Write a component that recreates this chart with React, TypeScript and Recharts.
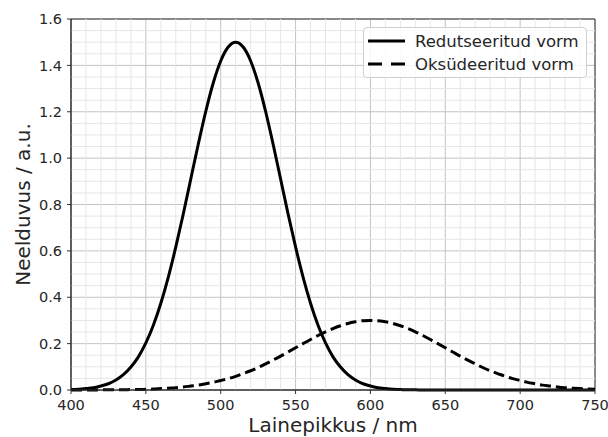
import React from "react"
import {
  LineChart,
  Line,
  XAxis,
  YAxis,
  CartesianGrid,
  ReferenceLine,
  ReferenceArea,
  Legend,
} from "recharts"

// wavelength grid (nm)
const wavelengths = [
  400, 405, 410, 415, 420, 425, 430, 435, 440, 445, 450, 455, 460, 465, 470, 475, 480, 485, 490, 495,
  500, 505, 510, 515, 520, 525, 530, 535, 540, 545, 550, 555, 560, 565, 570, 575, 580, 585, 590, 595,
  600, 605, 610, 615, 620, 625, 630, 635, 640, 645, 650, 655, 660, 665, 670, 675, 680, 685, 690, 695,
  700, 705, 710, 715, 720, 725, 730, 735, 740, 745, 750,
]

// Redutseeritud vorm
const reduced = [
  0.002, 0.003, 0.006, 0.01, 0.017, 0.027, 0.043, 0.066, 0.099, 0.143, 0.203, 0.279, 0.374, 0.487, 0.617, 0.759, 0.91, 1.06, 1.201, 1.324,
  1.419, 1.479, 1.5, 1.479, 1.419, 1.324, 1.201, 1.06, 0.91, 0.759, 0.617, 0.487, 0.374, 0.279, 0.203, 0.143, 0.099, 0.066, 0.043, 0.027,
  0.017, 0.01, 0.006, 0.003, 0.002, 0.001, 0.001, 0, 0, 0, 0, 0, 0, 0, 0, 0, 0, 0, 0, 0,
  0, 0, 0, 0, 0, 0, 0, 0, 0, 0, 0,
]

// Oksüdeeritud vorm
const oxidized = [
  0, 0, 0, 0, 0.001, 0.001, 0.001, 0.001, 0.002, 0.002, 0.003, 0.004, 0.006, 0.008, 0.01, 0.013, 0.017, 0.021, 0.027, 0.033,
  0.041, 0.049, 0.059, 0.071, 0.083, 0.097, 0.113, 0.129, 0.146, 0.164, 0.182, 0.2, 0.218, 0.235, 0.251, 0.265, 0.277, 0.287, 0.294, 0.299,
  0.3, 0.299, 0.294, 0.287, 0.277, 0.265, 0.251, 0.235, 0.218, 0.2, 0.182, 0.164, 0.146, 0.129, 0.113, 0.097, 0.083, 0.071, 0.059, 0.049,
  0.041, 0.033, 0.027, 0.021, 0.017, 0.013, 0.01, 0.008, 0.006, 0.004, 0.003,
]

const xTicks = [400, 450, 500, 550, 600, 650, 700, 750]
const yTicks = [0, 0.2, 0.4, 0.6, 0.8, 1.0, 1.2, 1.4, 1.6]
const xMinor = [
  410, 420, 430, 440, 460, 470, 480, 490, 510, 520, 530, 540, 560, 570, 580, 590,
  610, 620, 630, 640, 660, 670, 680, 690, 710, 720, 730, 740,
]
const yMinor = [
  0.05, 0.1, 0.15, 0.25, 0.3, 0.35, 0.45, 0.5, 0.55, 0.65, 0.7, 0.75,
  0.85, 0.9, 0.95, 1.05, 1.1, 1.15, 1.25, 1.3, 1.35, 1.45, 1.5, 1.55,
]

const seriesNames = ["Redutseeritud vorm", "Oksüdeeritud vorm"]
const seriesDash = ["", "11 5"]

const data = wavelengths.map((x, i) => ({ x, reduced: reduced[i], oxidized: oxidized[i] }))

const FONT = "DejaVu Sans"
const TEXT = "#262626"
const SPINE = "#333333"

const XTick = ({ x, y, payload }: any) => (
  <text x={x} y={y + 16} textAnchor="middle" fill={TEXT} fontSize={14.5} fontFamily={FONT}>
    {payload.value}
  </text>
)

const YTick = ({ x, y, payload }: any) => (
  <text x={x - 5} y={y} dy="0.36em" textAnchor="end" fill={TEXT} fontSize={14.5} fontFamily={FONT}>
    {Number(payload.value).toFixed(1)}
  </text>
)

const EmptyTick = () => <g />

const LegendBox = () => (
  <div
    style={{
      boxSizing: "border-box",
      width: 224,
      height: 51,
      border: "1px solid #d0d0d0",
      borderRadius: 4,
      background: "rgba(255,255,255,0.8)",
      position: "relative",
      fontFamily: FONT,
      fontSize: 16.5,
      color: TEXT,
    }}
  >
    {seriesNames.map((name, i) => (
      <div key={name} style={{ position: "absolute", left: 3, top: 2 + i * 23, height: 22, display: "flex", alignItems: "center" }}>
        <svg width={38} height={22}>
          <line
            x1={1}
            y1={11}
            x2={38}
            y2={11}
            stroke="#000"
            strokeWidth={3}
            strokeDasharray={seriesDash[i] ? "14 9" : undefined}
          />
        </svg>
        <span style={{ marginLeft: 10, whiteSpace: "nowrap" }}>{name}</span>
      </div>
    ))}
  </div>
)

export default function App() {
  return (
    <div style={{ position: "absolute", left: 0, top: 0 }}>
      <LineChart width={608} height={437} data={data} margin={{ top: 19, right: 13, bottom: 0, left: 0 }}>
        {xMinor.map((v) => (
          <ReferenceLine key={`xm-${v}`} x={v} stroke="#e6e6e6" strokeWidth={1} />
        ))}
        {yMinor.map((v) => (
          <ReferenceLine key={`ym-${v}`} y={v} stroke="#e6e6e6" strokeWidth={1} />
        ))}
        <CartesianGrid stroke="#c4c4c4" strokeWidth={1} />
        <XAxis
          xAxisId="minor"
          dataKey="x"
          type="number"
          domain={[400, 750]}
          ticks={xMinor}
          tickSize={2}
          tickMargin={0}
          axisLine={false}
          tickLine={{ stroke: SPINE }}
          tick={EmptyTick}
          height={0}
        />
        <XAxis
          dataKey="x"
          type="number"
          domain={[400, 750]}
          ticks={xTicks}
          tickSize={4}
          tickMargin={0}
          axisLine={{ stroke: SPINE }}
          tickLine={{ stroke: SPINE }}
          tick={XTick}
          height={47}
          label={({ viewBox }: any) => (
            <text
              x={viewBox.x + viewBox.width / 2}
              y={viewBox.y + 42}
              textAnchor="middle"
              fill={TEXT}
              fontSize={20}
              fontFamily={FONT}
            >
              Lainepikkus / nm
            </text>
          )}
        />
        <YAxis
          yAxisId="minor"
          type="number"
          domain={[0, 1.6]}
          ticks={yMinor}
          tickSize={2}
          tickMargin={0}
          axisLine={false}
          tickLine={{ stroke: SPINE }}
          tick={EmptyTick}
          width={0}
        />
        <YAxis
          type="number"
          domain={[0, 1.6]}
          ticks={yTicks}
          tickSize={4}
          tickMargin={0}
          axisLine={{ stroke: SPINE }}
          tickLine={{ stroke: SPINE }}
          tick={YTick}
          width={71}
          label={({ viewBox }: any) => {
            const cx = 23
            const cy = viewBox.y + viewBox.height / 2
            return (
              <text
                x={cx}
                y={cy}
                transform={`rotate(-90 ${cx} ${cy})`}
                textAnchor="middle"
                dominantBaseline="central"
                fill={TEXT}
                fontSize={20}
                fontFamily={FONT}
              >
                Neelduvus / a.u.
              </text>
            )
          }}
        />
        <Line
          dataKey="reduced"
          name={seriesNames[0]}
          type="monotone"
          stroke="#000"
          strokeWidth={3}
          dot={false}
          isAnimationActive={false}
        />
        <Line
          dataKey="oxidized"
          name={seriesNames[1]}
          type="monotone"
          stroke="#000"
          strokeWidth={3}
          strokeDasharray={seriesDash[1]}
          dot={false}
          isAnimationActive={false}
        />
        <ReferenceArea x1={400} x2={750} y1={0} y2={1.6} fill="none" stroke={SPINE} strokeWidth={1} />
        <Legend
          layout="horizontal"
          verticalAlign="middle"
          align="center"
          wrapperStyle={{ left: 363, top: 27, width: 224, height: 51 }}
          content={LegendBox}
        />
      </LineChart>
    </div>
  )
}
